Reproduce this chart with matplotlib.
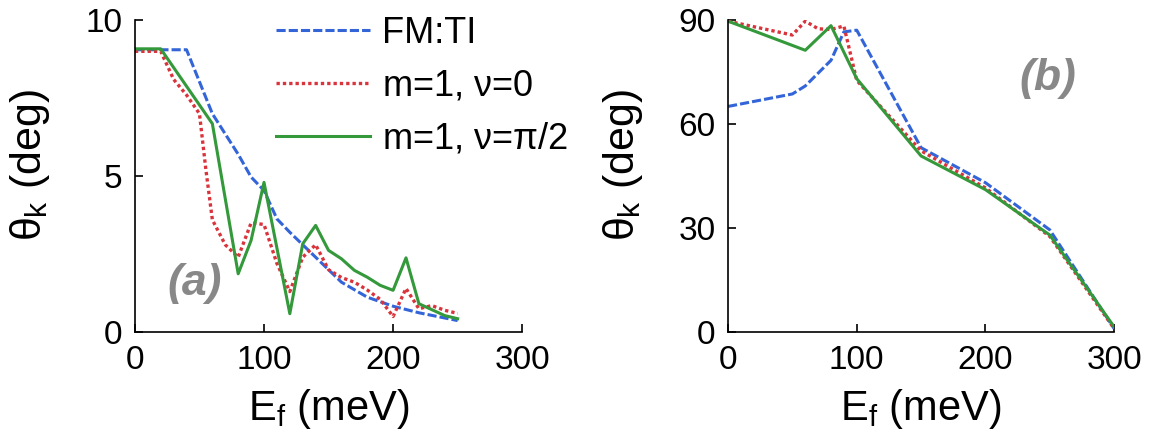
import matplotlib
matplotlib.use("Agg")
import matplotlib.pyplot as plt

plt.rcParams["font.family"] = ["Liberation Sans", "DejaVu Sans"]
plt.rcParams["mathtext.fontset"] = "custom"
plt.rcParams["mathtext.rm"] = "Liberation Sans"
plt.rcParams["mathtext.it"] = "Liberation Sans"

# panel (a): small angles
fm_x_a = [0, 20, 40, 60, 80, 90, 100, 110, 120, 140, 160, 180, 200, 220, 250]
fm_y_a = [9.05, 9.05, 9.05, 7.0, 5.7, 4.97, 4.54, 3.63, 3.2, 2.4, 1.6, 1.12, 0.83, 0.62, 0.37]
nu0_x_a = [0, 20, 30, 40, 50, 55, 60, 70, 80, 90, 100, 110, 120, 130, 140, 150,
           160, 170, 180, 190, 200, 210, 220, 230, 240, 250]
nu0_y_a = [9.0, 9.0, 8.1, 7.6, 7.0, 5.2, 3.6, 2.8, 2.4, 3.5, 3.45, 2.2, 1.3, 2.4,
           2.8, 2.0, 1.75, 1.6, 1.35, 1.05, 0.5, 1.4, 0.75, 0.85, 0.7, 0.6]
nupi_x_a = [0, 20, 60, 80, 90, 100, 120, 130, 140, 150, 160, 170, 180, 190, 200,
            210, 220, 240, 250]
nupi_y_a = [9.08, 9.08, 6.68, 1.87, 2.94, 4.8, 0.59, 2.83, 3.42, 2.62, 2.35, 1.98,
            1.76, 1.5, 1.34, 2.38, 0.91, 0.53, 0.43]

# panel (b): large angles
fm_x_b = [0, 50, 60, 80, 90, 100, 150, 200, 250, 300]
fm_y_b = [65.1, 68.7, 71.0, 78.4, 86.6, 87.1, 53.2, 43.1, 29.5, 1.0]
nu0_x_b = [0, 50, 60, 70, 80, 90, 100, 150, 200, 250, 300]
nu0_y_b = [89.7, 85.7, 89.7, 87.5, 87.3, 88.3, 72.6, 52.3, 41.6, 27.6, 1.0]
nupi_x_b = [0, 60, 80, 100, 150, 200, 250, 300]
nupi_y_b = [89.7, 81.3, 88.4, 73.1, 50.8, 41.1, 28.0, 1.5]

labels = ["FM:TI", r"m=1, $\nu$=0", r"m=1, $\nu$=$\pi$/2"]
blue, red, green = "#3465d8", "#d9343c", "#33993a"
gray = "#888888"

fig = plt.figure(figsize=(11.63, 4.47), dpi=100)
ax_a = fig.add_axes([0.116, 0.257, 0.333, 0.698])
ax_b = fig.add_axes([0.626, 0.257, 0.332, 0.698])

styles = [
    dict(color=blue, lw=2.2, ls=(0, (3, 1))),
    dict(color=red, lw=2.4, ls=(0, (1, 0.9))),
    dict(color=green, lw=2.2, ls="-"),
]

series_a = [(fm_x_a, fm_y_a), (nu0_x_a, nu0_y_a), (nupi_x_a, nupi_y_a)]
series_b = [(fm_x_b, fm_y_b), (nu0_x_b, nu0_y_b), (nupi_x_b, nupi_y_b)]

lines = []
for (x, y), st, lab in zip(series_a, styles, labels):
    (ln,) = ax_a.plot(x, y, label=lab, **st)
    lines.append(ln)
for (x, y), st in zip(series_b, styles):
    ax_b.plot(x, y, **st)

for ax, ymax, yticks in [(ax_a, 10, [0, 5, 10]), (ax_b, 90, [0, 30, 60, 90])]:
    ax.set_xlim(0, 300)
    ax.set_ylim(0, ymax)
    ax.set_xticks([0, 100, 200, 300])
    ax.set_yticks(yticks)
    ax.spines[["top", "right"]].set_visible(False)
    for s in ("left", "bottom"):
        ax.spines[s].set_linewidth(1.2)
    ax.tick_params(direction="in", length=6, width=1.2, labelsize=24, pad=9)
    ax.set_xlabel(r"E$_{\rm f}$ (meV)", fontsize=30, labelpad=8)
    ax.set_ylabel(r"$\theta_{\rm k}$ (deg)", fontsize=31)
    ax.yaxis.set_label_coords(-0.215, 0.535)

ax_a.text(46.5, 1.56, "(a)", fontsize=32, fontweight="bold", fontstyle="italic",
          color=gray, ha="center", va="center")
ax_b.text(248.7, 73.1, "(b)", fontsize=32, fontweight="bold", fontstyle="italic",
          color=gray, ha="center", va="center")

fig.legend(handles=lines, loc="upper left", bbox_to_anchor=(0.237, 0.965),
           frameon=False, fontsize=26, handlelength=2.6, handletextpad=0.35,
           labelspacing=0.5, borderpad=0, borderaxespad=0)

fig.savefig("out.png", dpi=100)
